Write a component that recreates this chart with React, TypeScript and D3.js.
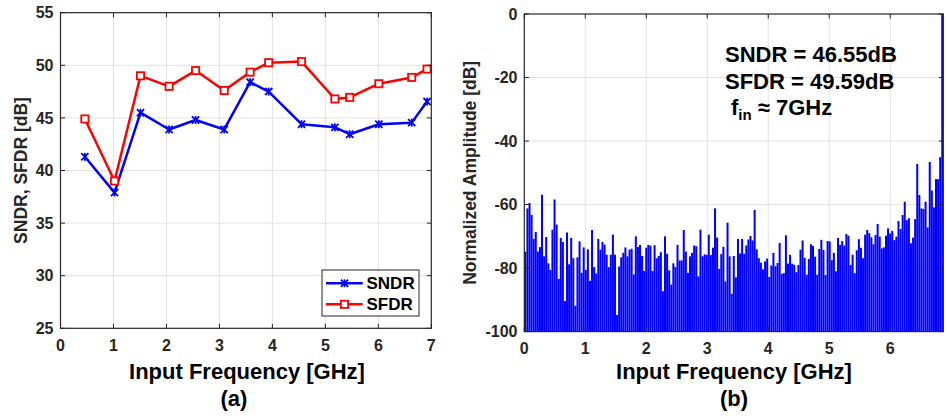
import React from "react";
import * as d3 from "d3";

// ---------- Data: chart (a) ----------
const freqA = [0.46, 1.02, 1.51, 2.05, 2.55, 3.09, 3.58, 3.93, 4.55, 5.18, 5.46, 6.01, 6.63, 6.92];
const sndr = [41.3, 37.9, 45.5, 43.9, 44.8, 43.9, 48.4, 47.5, 44.4, 44.1, 43.45, 44.4, 44.55, 46.55];
const sfdr = [44.9, 39.0, 49.0, 48.0, 49.5, 47.6, 49.35, 50.25, 50.35, 46.8, 46.95, 48.25, 48.85, 49.64];
const xTicksA = [0, 1, 2, 3, 4, 5, 6, 7];
const yTicksA = [25, 30, 35, 40, 45, 50, 55];

// ---------- Data: chart (b) spectrum (dB per FFT bin, 0 .. fs/2) ----------
const spectrum = [
  -74.8, -61.2, -59.5, -63.3, -70.8, -68.6, -74.8, -73.4, -56.9, -76.3, -70.2, -78.5, -80.6, -67.9, -58.4, -66.3, -83.4,
  -70.5, -71.8, -90.4, -68.8, -78.8, -70.5, -76.9, -91.9, -76.6, -71.6, -81.5, -73.5, -80.6, -74.1, -84.0, -68.0,
  -79.7, -81.7, -70.8, -74.2, -71.8, -72.6, -75.8, -79.7, -75.8, -69.5, -75.8, -94.8, -79.5, -76.6, -75.2, -73.5, -76.3,
  -74.2, -73.9, -82.0, -70.0, -73.4, -72.7, -76.2, -80.9, -73.6, -72.7, -72.9, -80.9, -72.8, -76.9, -76.2, -75.0,
  -87.3, -70.0, -75.5, -80.7, -85.2, -78.5, -79.7, -72.7, -77.6, -77.6, -68.0, -74.8, -81.5, -76.3, -75.2, -72.9, -73.1,
  -82.6, -67.9, -76.3, -75.7, -75.8, -69.5, -75.9, -73.6, -61.2, -70.4, -80.3, -75.6, -73.3, -84.2, -65.7, -76.3, -88.1,
  -76.2, -82.9, -70.8, -75.4, -70.8, -75.5, -72.9, -71.0, -69.9, -71.3, -61.7, -74.1, -76.9, -78.3, -80.4, -77.9, -77.0,
  -82.8, -79.2, -75.2, -79.4, -78.4, -72.1, -81.8, -81.6, -69.7, -78.6, -75.8, -78.6, -79.0, -81.3, -79.0, -74.2, -71.3,
  -76.8, -82.1, -77.1, -72.5, -73.0, -76.4, -82.1, -74.0, -71.1, -74.3, -82.2, -71.5, -71.6, -77.5, -75.2, -81.0, -70.5,
  -72.7, -71.5, -72.9, -69.3, -69.8, -79.0, -75.8, -81.6, -74.4, -70.9, -73.6, -76.9, -69.5, -68.0, -69.0, -70.3,
  -72.5, -69.6, -66.1, -70.1, -73.8, -73.5, -69.8, -67.5, -69.1, -68.3, -71.2, -70.1, -65.2, -67.7, -63.3, -59.1, -64.9,
  -64.3, -72.2, -70.4, -64.6, -47.2, -57.0, -61.2, -61.4, -59.1, -67.2, -46.6, -55.6, -60.9, -52.0, -52.0, -45.1, 0,
];
const fMaxB = 6.87; // GHz, right edge of spectrum axis
const xTicksB = [0, 1, 2, 3, 4, 5, 6];
const yTicksB = [0, -20, -40, -60, -80, -100];
const annotLines = ["SNDR = 46.55dB", "SFDR = 49.59dB"];

const FONT = "'Liberation Sans', Arial, Helvetica, sans-serif";
const AX = "#262626";
const GRID = "#e3e3e3";

export default function App() {
  // ----- panel (a) geometry -----
  const aL = 60.5, aR = 431.3, aT = 12.7, aB = 328.3;
  const xA = d3.scaleLinear().domain([0, 7]).range([aL, aR]);
  const yA = d3.scaleLinear().domain([25, 55]).range([aB, aT]);
  const lineA = d3.line<number>().x((_, i) => xA(freqA[i])).y((d) => yA(d));

  // ----- panel (b) geometry -----
  const bL = 524.3, bR = 943.3, bT = 14, bB = 331.6;
  const xB = d3.scaleLinear().domain([0, fMaxB]).range([bL, bR]);
  const yB = d3.scaleLinear().domain([-100, 0]).range([bB, bT]);
  const n = spectrum.length;
  const binW = fMaxB / n;
  const bw = xB(binW) - xB(0);

  const tick = 4.5;

  const starMarker = (cx: number, cy: number, key: string | number) => {
    const s = 3.6;
    return (
      <g key={key} stroke="#0000ff" strokeWidth={1.8}>
        <line x1={cx - s} y1={cy - s} x2={cx + s} y2={cy + s} />
        <line x1={cx - s} y1={cy + s} x2={cx + s} y2={cy - s} />
        <line x1={cx} y1={cy - s * 1.1} x2={cx} y2={cy + s * 1.1} />
      </g>
    );
  };
  const squareMarker = (cx: number, cy: number, key: string | number) => (
    <rect key={key} x={cx - 3.6} y={cy - 3.6} width={7.2} height={7.2} fill="#fff" stroke="#ff0000" strokeWidth={1.8} />
  );

  return (
    <svg width={947} height={419} style={{ position: "absolute", left: 0, top: 0, background: "#fff" }} fontFamily={FONT}>
      <rect x={0} y={0} width={947} height={419} fill="#fff" />
      {/* ================= Panel (a) ================= */}
      <g>
        {xTicksA.slice(1, -1).map((t) => (
          <line key={"gx" + t} x1={xA(t)} x2={xA(t)} y1={aT} y2={aB} stroke={GRID} strokeWidth={1} />
        ))}
        {yTicksA.slice(1, -1).map((t) => (
          <line key={"gy" + t} x1={aL} x2={aR} y1={yA(t)} y2={yA(t)} stroke={GRID} strokeWidth={1} />
        ))}
        <path d={lineA(sfdr) || ""} fill="none" stroke="#ff0000" strokeWidth={2.5} strokeLinejoin="round" />
        <path d={lineA(sndr) || ""} fill="none" stroke="#0000ff" strokeWidth={2.5} strokeLinejoin="round" />
        {sfdr.map((v, i) => squareMarker(xA(freqA[i]), yA(v), "s" + i))}
        {sndr.map((v, i) => starMarker(xA(freqA[i]), yA(v), "x" + i))}
        {/* ticks */}
        {xTicksA.map((t) => (
          <g key={"tx" + t}>
            <line x1={xA(t)} x2={xA(t)} y1={aB} y2={aB - tick} stroke={AX} />
            <line x1={xA(t)} x2={xA(t)} y1={aT} y2={aT + tick} stroke={AX} />
            <text x={xA(t)} y={350.7} textAnchor="middle" fontSize={16} fontWeight="bold" fill={AX}>{t}</text>
          </g>
        ))}
        {yTicksA.map((t) => (
          <g key={"ty" + t}>
            <line x1={aL} x2={aL + tick} y1={yA(t)} y2={yA(t)} stroke={AX} />
            <line x1={aR} x2={aR - tick} y1={yA(t)} y2={yA(t)} stroke={AX} />
            <text x={53.5} y={yA(t)} dy="0.36em" textAnchor="end" fontSize={16} fontWeight="bold" fill={AX}>{t}</text>
          </g>
        ))}
        <rect x={aL} y={aT} width={aR - aL} height={aB - aT} fill="none" stroke={AX} strokeWidth={1.2} />
        {/* legend */}
        <g>
          <rect x={322} y={270} width={97} height={46} fill="#fff" stroke={AX} strokeWidth={1} />
          <line x1={326} x2={362.7} y1={283.3} y2={283.3} stroke="#0000ff" strokeWidth={2.5} />
          {starMarker(344.5, 283.3, "lg1")}
          <text x={366.5} y={283.3} dy="0.36em" fontSize={17} fontWeight="bold" fill="#000">SNDR</text>
          <line x1={326} x2={362.7} y1={304.3} y2={304.3} stroke="#ff0000" strokeWidth={2.5} />
          {squareMarker(344.5, 304.3, "lg2")}
          <text x={366.5} y={304.3} dy="0.36em" fontSize={17} fontWeight="bold" fill="#000">SFDR</text>
        </g>
        <text x={247} y={379} textAnchor="middle" fontSize={22} fontWeight="bold" fill="#000">Input Frequency [GHz]</text>
        <text x={234} y={406} textAnchor="middle" fontSize={22} fontWeight="bold" fill="#000">(a)</text>
        <text transform={`translate(27,${(aT + aB) / 2}) rotate(-90)`} textAnchor="middle" fontSize={17.5} fontWeight="bold" fill={AX}>SNDR, SFDR [dB]</text>
      </g>

      {/* ================= Panel (b) ================= */}
      <g>
        {xTicksB.slice(1).map((t) => (
          <line key={"bgx" + t} x1={xB(t)} x2={xB(t)} y1={bT} y2={bB} stroke={GRID} strokeWidth={1} />
        ))}
        {yTicksB.slice(1, -1).map((t) => (
          <line key={"bgy" + t} x1={bL} x2={bR} y1={yB(t)} y2={yB(t)} stroke={GRID} strokeWidth={1} />
        ))}
        {spectrum.map((v, i) => {
          const x0 = xB(i * binW);
          return (
            <rect key={"b" + i} x={x0 + bw * 0.02} y={yB(v)} width={bw * 0.96} height={yB(-100) - yB(v)} fill="#0000ff" />
          );
        })}
        {xTicksB.map((t) => (
          <g key={"btx" + t}>
            <line x1={xB(t)} x2={xB(t)} y1={bB} y2={bB - tick} stroke={AX} />
            <line x1={xB(t)} x2={xB(t)} y1={bT} y2={bT + tick} stroke={AX} />
            <text x={xB(t)} y={353.5} textAnchor="middle" fontSize={16} fontWeight="bold" fill={AX}>{t}</text>
          </g>
        ))}
        {yTicksB.map((t) => (
          <g key={"bty" + t}>
            <line x1={bL} x2={bL + tick} y1={yB(t)} y2={yB(t)} stroke={AX} />
            <line x1={bR} x2={bR - tick} y1={yB(t)} y2={yB(t)} stroke={AX} />
            <text x={517.5} y={yB(t)} dy="0.36em" textAnchor="end" fontSize={16} fontWeight="bold" fill={AX}>{t}</text>
          </g>
        ))}
        <rect x={bL} y={bT} width={bR - bL} height={bB - bT} fill="none" stroke={AX} strokeWidth={1.2} />
        {annotLines.map((s, i) => (
          <text key={"an" + i} x={725} y={61.7 + i * 27} fontSize={22} fontWeight="bold" fill="#000">{s}</text>
        ))}
        <text x={731} y={115} fontSize={22} fontWeight="bold" fill="#000">
          f<tspan fontSize={15} dy={5}>in</tspan><tspan dy={-5}> ≈ 7GHz</tspan>
        </text>
        <text x={734} y={379} textAnchor="middle" fontSize={22} fontWeight="bold" fill="#000">Input Frequency [GHz]</text>
        <text x={734} y={406} textAnchor="middle" fontSize={22} fontWeight="bold" fill="#000">(b)</text>
        <text transform={`translate(476,${(bT + bB) / 2}) rotate(-90)`} textAnchor="middle" fontSize={17.5} fontWeight="bold" fill={AX}>Normalized Amplitude [dB]</text>
      </g>
    </svg>
  );
}
